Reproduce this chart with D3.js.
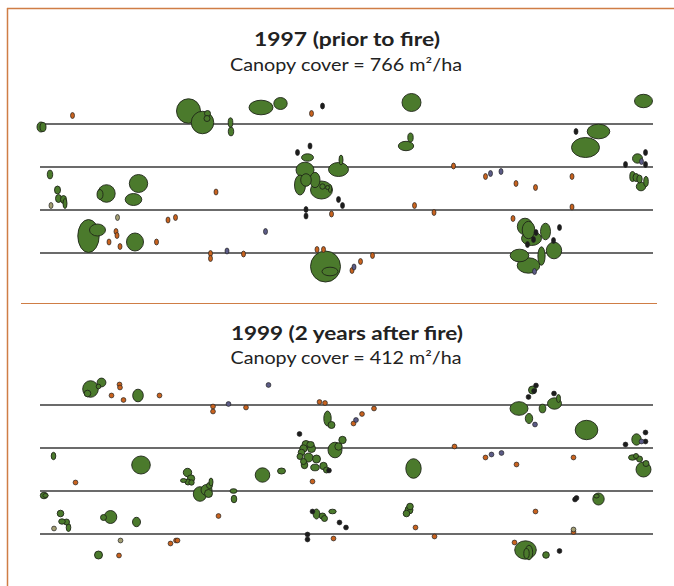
<!DOCTYPE html>
<html><head><meta charset="utf-8">
<script src="https://cdn.jsdelivr.net/npm/d3@7"></script>
<style>body{margin:0;background:#fff}svg{display:block}</style>
</head><body>
<svg id="chart" width="674" height="586"></svg>
<script>
// ---- DATA (metres along transect, metres from first transect line) ----
const transects = [0, 8.6, 17.2, 25.8];
const panelTitles = ["1997 (prior to fire)", "1999 (2 years after fire)"];
const canopyCover = [766, 412];
const speciesColor = {g:"#4b7a2c", o:"#c8621e", k:"#1c1c1c", b:"#5b5b86", t:"#a39e73"};

// crowns: [x, y, rx, ry]
const crowns1997 = [
[0.2,0.6,0.8,1.0],[0.6,0.6,0.6,0.9],[29.7,-2.6,2.4,2.45],[32.5,-0.3,2.25,2.25],[33.5,-2.1,0.6,0.6],[33.4,-1.1,0.6,0.6],
[38.1,-0.3,0.46,0.94],[38.2,1.5,0.54,0.86],[44.2,-3.3,2.4,1.46],[48.1,-4.1,1.34,1.2],[74.3,-4.3,1.9,1.8],[120.7,-4.6,1.8,1.34],
[74.1,2.7,0.54,0.9],[73.2,4.4,1.54,0.94],[111.7,1.5,2.26,1.46],[109.1,4.7,2.8,2.0],[60.2,7.2,0.4,1.0],[59.7,9.1,2.0,1.4],
[119.5,6.9,1.0,0.94],[118.5,10.5,0.54,1.0],[119.2,10.7,0.6,0.8],[119.9,11.0,0.54,0.8],[121.2,11.5,0.46,1.0],[120.2,12.5,0.94,0.86],
[97.0,20.5,1.54,1.66],[97.7,21.2,1.26,1.74],[98.3,22.9,2.0,1.4],[101.1,21.5,1.0,1.66],[102.8,25.3,1.54,1.66],[100.3,26.4,0.72,1.84],
[95.9,26.3,1.86,1.26],[97.7,28.3,2.26,1.54],[2.0,10.1,0.54,0.86],[3.5,13.2,0.6,0.8],[3.7,14.9,0.6,0.8],[4.7,15.1,0.6,0.8],
[5.0,15.9,0.4,1.0],[12.0,14.1,0.6,1.0],[13.3,13.9,1.74,1.76],[19.7,11.9,1.84,1.8],[18.7,15.1,1.66,1.2],[53.5,6.7,1.2,0.74],
[53.0,9.2,1.8,1.56],[52.0,12.2,1.1,2.0],[53.2,11.2,1.06,1.26],[55.0,11.2,1.0,1.54],[56.3,13.2,2.2,1.8],[56.5,12.5,0.54,0.54],
[57.5,12.7,0.4,0.4],[58.0,12.9,0.34,0.8],[9.7,22.4,2.14,3.3],[11.5,21.2,1.6,1.2],[19.0,23.6,1.7,1.8],[57.1,28.5,3.0,3.1],
[58.0,29.5,1.6,0.86]
];
// stems: [x, y, species]
const stems1997 = [
[6.5,-1.7,"o"],[54.3,-2.1,"o"],[82.7,8.4,"o"],[89.1,10.5,"o"],[95.2,11.9,"o"],[99.1,12.7,"o"],[106.4,10.5,"o"],[106.4,16.6,"o"],
[58.3,18.0,"o"],[74.9,16.3,"o"],[78.8,17.7,"o"],[94.6,18.9,"o"],[66.5,26.3,"o"],[64.1,27.5,"o"],[62.4,29.3,"o"],[35.2,13.6,"o"],
[15.2,21.5,"o"],[15.4,22.3,"o"],[13.8,23.6,"o"],[16.0,24.5,"o"],[23.3,23.6,"o"],[25.6,19.2,"o"],[27.1,18.7,"o"],[34.1,25.9,"o"],
[34.1,26.9,"o"],[40.7,26.0,"o"],[55.4,25.1,"o"],[56.7,25.1,"o"],
[56.5,-3.6,"k"],[107.2,1.5,"k"],[51.5,5.7,"k"],[54.0,4.4,"k"],[59.7,15.1,"k"],[60.5,16.3,"k"],[53.2,17.1,"k"],[53.2,18.4,"k"],
[117.1,8.1,"k"],[121.1,5.7,"k"],[121.1,8.1,"k"],[99.2,21.7,"k"],[98.7,23.1,"k"],[97.5,24.1,"k"],[103.9,20.7,"k"],[102.7,23.3,"k"],
[90.1,9.9,"b"],[92.2,9.5,"b"],[120.3,7.5,"b"],[98.9,29.5,"b"],[45.1,21.5,"b"],[37.4,25.4,"b"],[62.8,28.6,"b"],
[2.2,16.3,"t"],[15.5,18.7,"t"]
];

const crowns1999 = [
[10.1,-3.2,1.56,1.66],[12.3,-4.5,0.88,0.88],[9.5,-2.3,0.66,0.66],[11.7,-3.7,0.46,0.46],[19.6,-1.9,1.06,1.26],[57.5,2.7,0.74,1.5],
[58.3,4.0,0.7,0.7],[95.8,0.7,1.8,1.36],[98.5,-3.0,0.8,0.8],[100.5,0.7,0.66,0.86],[102.9,-0.3,1.4,1.14],[103.7,-1.3,0.4,0.8],
[97.8,2.7,0.74,1.0],[109.3,5.0,2.26,1.94],[119.3,6.9,0.94,1.14],[74.7,12.7,1.54,1.96],[118.5,10.5,0.8,0.54],[119.2,10.2,0.5,0.5],
[119.9,10.8,0.6,0.6],[121.2,11.7,0.6,0.6],[120.7,12.9,1.5,1.5],[111.7,18.8,1.14,1.2],[111.3,18.2,0.54,0.4],[58.5,21.3,0.74,0.46],
[74.0,20.3,0.66,0.66],[73.8,21.0,0.8,0.8],[73.3,21.7,0.66,0.66],[97.1,29.0,2.16,1.84],[97.8,29.5,0.74,1.46],[97.3,29.7,0.54,1.0],
[101.2,30.0,0.66,0.66],[2.7,10.2,0.46,0.74],[20.2,12.0,1.86,1.8],[29.5,13.5,0.84,0.84],[30.2,14.7,0.74,0.74],[28.7,15.1,0.6,0.4],
[29.6,15.4,0.6,0.6],[30.3,15.5,0.54,0.54],[32.0,17.8,1.34,1.46],[33.3,17.0,1.1,1.1],[33.7,17.7,0.8,0.8],[33.9,16.1,0.6,0.6],
[34.2,15.4,0.4,0.8],[38.7,17.2,0.7,0.46],[38.8,18.8,0.56,0.76],[44.5,14.0,1.46,1.44],[48.3,13.2,0.8,0.6],[53.2,7.9,0.8,0.8],
[54.1,7.9,0.74,0.6],[52.7,8.7,0.74,0.74],[54.3,8.7,0.8,0.8],[52.3,9.5,0.66,0.66],[53.7,10.5,0.9,0.9],[52.0,10.3,0.6,0.6],
[52.7,11.3,0.6,0.6],[52.9,12.0,0.66,0.74],[55.3,10.8,0.8,0.8],[55.0,12.5,0.86,0.66],[56.7,12.2,0.74,0.74],[57.3,13.0,0.6,0.6],
[59.0,9.0,1.4,1.56],[59.7,8.3,0.74,0.74],[60.5,7.0,0.74,0.74],[0.8,18.1,0.74,0.66],[1.1,18.1,0.54,0.4],[4.1,21.7,0.66,0.66],
[4.4,23.3,0.66,0.54],[5.3,23.4,0.6,0.6],[5.7,24.5,0.46,0.8],[14.1,22.4,1.26,1.3],[12.7,22.5,0.6,0.6],[19.3,23.4,0.8,0.94],
[11.7,30.0,0.8,0.8],[55.3,21.8,0.66,1.0],[56.5,22.2,0.66,0.6],[56.9,22.7,0.6,0.6]
];
const stems1999 = [
[15.9,-4.1,"o"],[16.0,-3.5,"o"],[14.3,-1.9,"o"],[16.7,-1.0,"o"],[23.9,-1.9,"o"],[34.6,0.3,"o"],[34.6,1.3,"o"],[41.2,0.5,"o"],
[55.9,-0.6,"o"],[57.0,-0.4,"o"],[66.8,0.7,"o"],[64.4,1.8,"o"],[62.7,3.7,"o"],[82.9,8.3,"o"],[89.1,10.5,"o"],[95.3,11.9,"o"],
[106.7,10.5,"o"],[7.1,15.5,"o"],[54.5,15.3,"o"],[35.7,22.2,"o"],[58.7,26.7,"o"],[75.1,24.5,"o"],[78.9,26.3,"o"],[99.1,21.3,"o"],
[106.7,25.4,"o"],[94.9,27.5,"o"],[26.1,27.7,"o"],[27.2,27.1,"o"],[27.5,27.1,"o"],[15.8,30.1,"o"],
[99.2,-3.9,"k"],[98.8,-2.8,"k"],[97.7,-1.6,"k"],[102.8,-2.3,"k"],[51.9,5.8,"k"],[121.1,5.5,"k"],[121.1,7.3,"k"],[117.1,7.9,"k"],
[57.8,13.1,"k"],[54.5,21.3,"k"],[59.9,23.5,"k"],[61.2,24.5,"k"],[53.5,25.9,"k"],[53.5,26.9,"k"],[107.3,18.6,"k"],[107.0,18.9,"k"],
[103.9,29.2,"k"],
[45.7,-4.0,"b"],[37.7,-0.2,"b"],[63.2,3.0,"b"],[99.0,3.9,"b"],[90.3,9.9,"b"],[92.3,9.6,"b"],[120.3,7.3,"b"],
[2.8,24.7,"t"],[16.1,27.1,"t"],[106.7,24.9,"t"]
];

// ---- DRAWING ----
const svg = d3.select("#chart");
const frame = "#cf7d45";
svg.append("line").attr("x1",7.5).attr("x2",7.5).attr("y1",8).attr("y2",586).attr("stroke",frame).attr("stroke-width",1.5);
svg.append("line").attr("x1",7).attr("x2",674).attr("y1",8.5).attr("y2",8.5).attr("stroke",frame).attr("stroke-width",1.5);
svg.append("line").attr("x1",21).attr("x2",657).attr("y1",303.5).attr("y2",303.5).attr("stroke",frame).attr("stroke-width",1.2);

const x = d3.scaleLinear().domain([0,122.6]).range([40,653]);
const unit = x(1) - x(0);

const panels = [
  {title:panelTitles[0], cover:canopyCover[0], crowns:crowns1997, stems:stems1997, top:124, tY:46, sY:71, stemR:[2,3], tW:186, sW:232},
  {title:panelTitles[1], cover:canopyCover[1], crowns:crowns1999, stems:stems1999, top:405, tY:340, sY:364, stemR:[2.4,2.4], tW:232, sW:231}
];

panels.forEach(p => {
  const y = d3.scaleLinear().domain([0,25.8]).range([p.top, p.top+129]);
  const g = svg.append("g");
  g.append("text").attr("x",347).attr("y",p.tY).attr("text-anchor","middle")
    .attr("font-family","Lato, 'Open Sans', sans-serif").attr("font-weight","bold").attr("font-size",19)
    .attr("fill","#222").attr("textLength",p.tW).attr("lengthAdjust","spacingAndGlyphs").text(p.title);
  g.append("text").attr("x",346).attr("y",p.sY).attr("text-anchor","middle")
    .attr("font-family","Lato, 'Open Sans', sans-serif").attr("font-size",17)
    .attr("fill","#222").attr("textLength",p.sW).attr("lengthAdjust","spacingAndGlyphs")
    .text(`Canopy cover = ${p.cover} m²/ha`);
  g.selectAll("line.tr").data(transects).join("line").attr("class","tr")
    .attr("x1",x.range()[0]).attr("x2",x.range()[1])
    .attr("y1",d=>y(d)).attr("y2",d=>y(d)).attr("stroke","#3a3a3a").attr("stroke-width",1.3);
  const crowns = p.crowns.slice().sort((a,b)=>b[2]*b[3]-a[2]*a[3]);
  g.selectAll("ellipse.cr").data(crowns).join("ellipse").attr("class","cr")
    .attr("cx",d=>x(d[0])).attr("cy",d=>y(d[1])).attr("rx",d=>d[2]*unit).attr("ry",d=>d[3]*unit)
    .attr("fill",speciesColor.g).attr("stroke","#1f2618").attr("stroke-width",0.9);
  g.selectAll("ellipse.st").data(p.stems).join("ellipse").attr("class","st")
    .attr("cx",d=>x(d[0])).attr("cy",d=>y(d[1])).attr("rx",p.stemR[0]).attr("ry",p.stemR[1])
    .attr("fill",d=>speciesColor[d[2]]).attr("stroke","#222").attr("stroke-width",0.7);
});
</script>
</body></html>
